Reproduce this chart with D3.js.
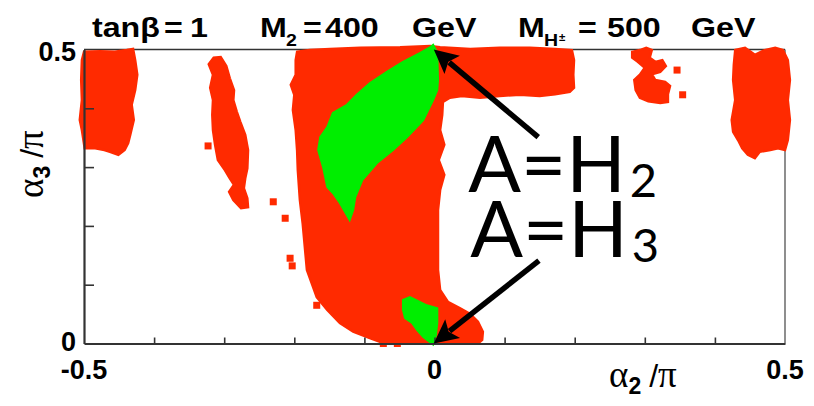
<!DOCTYPE html>
<html>
<head>
<meta charset="utf-8">
<script src="https://cdn.jsdelivr.net/npm/d3@7"></script>
<style>
  body { margin: 0; background: #fff; }
  svg { display: block; }
</style>
</head>
<body>
<svg id="chart" width="814" height="406"></svg>
<script>
// Axis ticks and labels (alpha_2/pi horizontally, alpha_3/pi vertically)
const xTicks = [-0.4, -0.3, -0.2, -0.1, 0, 0.1, 0.2, 0.3, 0.4];
const yTicks = [0.1, 0.2, 0.3, 0.4];
const xTickLabels = [{ v: -0.5, t: "-0.5" }, { v: 0, t: "0" }, { v: 0.5, t: "0.5" }];
const yTickLabels = [{ v: 0, t: "0" }, { v: 0.5, t: "0.5" }];

// Allowed regions (outlines of the scanned points), [alpha2/pi, alpha3/pi]
const redLeftBlock = [[-0.5,0.496],[-0.477,0.497],[-0.456,0.496],[-0.439,0.499],[-0.430,0.501],[-0.427,0.482],[-0.424,0.457],[-0.427,0.431],[-0.432,0.406],[-0.429,0.380],[-0.434,0.355],[-0.437,0.341],[-0.442,0.329],[-0.451,0.321],[-0.463,0.326],[-0.471,0.329],[-0.484,0.332],[-0.499,0.332],[-0.503,0.363],[-0.506,0.380],[-0.503,0.414],[-0.504,0.448],[-0.503,0.482]];
const redStrip = [[-0.322,0.475],[-0.316,0.457],[-0.320,0.435],[-0.316,0.414],[-0.317,0.389],[-0.316,0.363],[-0.313,0.338],[-0.309,0.312],[-0.299,0.295],[-0.292,0.281],[-0.286,0.270],[-0.293,0.258],[-0.287,0.244],[-0.276,0.230],[-0.266,0.232],[-0.267,0.247],[-0.272,0.264],[-0.270,0.281],[-0.267,0.298],[-0.266,0.329],[-0.270,0.355],[-0.277,0.377],[-0.282,0.394],[-0.287,0.414],[-0.286,0.431],[-0.292,0.451],[-0.297,0.472],[-0.305,0.487],[-0.315,0.486]];
const redMain = [[-0.196,0.496],[-0.178,0.499],[-0.149,0.501],[-0.106,0.503],[-0.049,0.504],[-0.006,0.506],[0.008,0.504],[0.051,0.501],[0.093,0.503],[0.136,0.503],[0.172,0.501],[0.196,0.499],[0.199,0.482],[0.198,0.457],[0.199,0.435],[0.193,0.428],[0.172,0.424],[0.150,0.421],[0.122,0.423],[0.093,0.421],[0.065,0.418],[0.039,0.421],[0.022,0.418],[0.012,0.411],[0.011,0.389],[0.008,0.363],[0.014,0.338],[0.006,0.312],[0.014,0.287],[0.008,0.261],[0.005,0.227],[0.005,0.176],[0.005,0.125],[0.008,0.091],[0.019,0.071],[0.036,0.060],[0.051,0.050],[0.062,0.037],[0.069,0.020],[0.068,0.006],[0.062,0.0],[0.008,0.0],[-0.049,0.0],[-0.078,0.003],[-0.096,0.011],[-0.116,0.020],[-0.135,0.035],[-0.153,0.057],[-0.168,0.079],[-0.182,0.125],[-0.188,0.204],[-0.192,0.244],[-0.195,0.295],[-0.196,0.329],[-0.198,0.363],[-0.202,0.397],[-0.200,0.423],[-0.205,0.440],[-0.198,0.457],[-0.198,0.482]];
const redRightCluster = [[0.282,0.496],[0.293,0.499],[0.302,0.503],[0.310,0.499],[0.307,0.486],[0.315,0.479],[0.325,0.482],[0.330,0.472],[0.322,0.462],[0.310,0.458],[0.315,0.448],[0.329,0.445],[0.336,0.438],[0.333,0.424],[0.333,0.411],[0.322,0.409],[0.305,0.412],[0.293,0.418],[0.287,0.431],[0.285,0.448],[0.293,0.457],[0.300,0.469],[0.290,0.479],[0.282,0.486]];
const redRightBlock = [[0.429,0.499],[0.443,0.503],[0.457,0.491],[0.471,0.499],[0.486,0.503],[0.497,0.499],[0.504,0.482],[0.507,0.448],[0.504,0.414],[0.507,0.380],[0.504,0.346],[0.500,0.329],[0.490,0.332],[0.479,0.329],[0.464,0.326],[0.457,0.315],[0.447,0.321],[0.439,0.332],[0.433,0.346],[0.426,0.360],[0.424,0.380],[0.429,0.414],[0.426,0.448],[0.427,0.474]];
const redIsolated = [[-0.323,0.336],[-0.230,0.241],[-0.213,0.213],[-0.206,0.145],[-0.203,0.132],[-0.168,0.065],[-0.073,0.0],[-0.053,0.0],[0.354,0.423],[0.346,0.465]];

const greenUpper = [[-0.002,0.508],[0.004,0.494],[0.005,0.448],[0.004,0.431],[-0.002,0.414],[-0.016,0.380],[-0.039,0.351],[-0.059,0.329],[-0.082,0.307],[-0.103,0.278],[-0.113,0.249],[-0.116,0.227],[-0.121,0.210],[-0.135,0.239],[-0.145,0.256],[-0.153,0.266],[-0.159,0.300],[-0.166,0.329],[-0.163,0.351],[-0.153,0.368],[-0.145,0.392],[-0.125,0.406],[-0.111,0.423],[-0.092,0.443],[-0.068,0.462],[-0.045,0.479],[-0.021,0.494],[-0.006,0.504]];
const greenLower = [[-0.045,0.074],[-0.035,0.079],[-0.011,0.065],[0.004,0.060],[0.004,0.035],[0.002,0.014],[-0.002,-0.002],[-0.016,0.011],[-0.025,0.023],[-0.032,0.035],[-0.042,0.043],[-0.045,0.057]];

const redRegions = [redLeftBlock, redStrip, redMain, redRightCluster, redRightBlock];
const greenRegions = [greenUpper, greenLower];

// Annotations: label, text anchor point, arrow tail and arrow tip (data units)
const annotations = [
  { label: "A=H", sub: "2", at: [0.048, 0.258], tail: [0.148, 0.351], tip: [-0.001, 0.5] },
  { label: "A=H", sub: "3", at: [0.051, 0.147], tail: [0.149, 0.141], tip: [-0.001, 0.0] }
];

const RED = "#ff2a00", GREEN = "#00ee00";

const svg = d3.select("#chart");
const x = d3.scaleLinear().domain([-0.5, 0.5]).range([84, 785]);
const y = d3.scaleLinear().domain([0, 0.5]).range([343.5, 49.5]);

// Frame: thin top/right edges
svg.append("line").attr("x1", x(-0.5)).attr("x2", x(0.5)).attr("y1", y(0.5)).attr("y2", y(0.5))
  .attr("stroke", "#333").attr("stroke-width", 1.3);
svg.append("line").attr("x1", x(0.5)).attr("x2", x(0.5)).attr("y1", y(0.5)).attr("y2", y(0))
  .attr("stroke", "#444").attr("stroke-width", 1.2);

// Regions
const area = d3.line().x(d => x(d[0])).y(d => y(d[1])).curve(d3.curveLinearClosed);
const regions = svg.append("g");
regions.selectAll("path.red").data(redRegions).join("path").attr("class", "red")
  .attr("d", area).attr("fill", RED).attr("stroke", RED)
  .attr("stroke-width", 2.5).attr("stroke-linejoin", "miter");
regions.selectAll("rect.pt").data(redIsolated).join("rect").attr("class", "pt")
  .attr("x", d => x(d[0]) - 3.5).attr("y", d => y(d[1]) - 3.5)
  .attr("width", 7).attr("height", 7).attr("fill", RED);
regions.selectAll("path.green").data(greenRegions).join("path").attr("class", "green")
  .attr("d", area).attr("fill", GREEN).attr("stroke", GREEN)
  .attr("stroke-width", 2).attr("stroke-linejoin", "miter");

// Axes with inward ticks
const xAxis = svg.append("g").attr("transform", `translate(0,${y(0)})`)
  .call(d3.axisBottom(x).tickValues(xTicks).tickSizeInner(-6).tickSizeOuter(0).tickFormat(""));
const yAxis = svg.append("g").attr("transform", `translate(${x(-0.5)},0)`)
  .call(d3.axisLeft(y).tickValues(yTicks).tickSizeInner(-10).tickSizeOuter(0).tickFormat(""));
[xAxis, yAxis].forEach(g => {
  g.select(".domain").attr("stroke", "#333").attr("stroke-width", 2.2);
  g.selectAll(".tick line").attr("stroke", "#333").attr("stroke-width", 1.6);
});

// Tick labels
const tickFont = "'Liberation Sans', Arial, sans-serif";
svg.selectAll("text.xl").data(xTickLabels).join("text").attr("class", "xl")
  .attr("x", d => x(d.v)).attr("y", 379).attr("text-anchor", "middle")
  .attr("font-family", tickFont).attr("font-weight", "bold").attr("font-size", 27)
  .text(d => d.t);
svg.selectAll("text.yl").data(yTickLabels).join("text").attr("class", "yl")
  .attr("x", 76).attr("y", d => y(d.v) + (d.v === 0 ? 7 : 11)).attr("text-anchor", "end")
  .attr("font-family", tickFont).attr("font-weight", "bold").attr("font-size", 27)
  .text(d => d.t);

// Axis titles
const serif = "'Liberation Serif', 'Times New Roman', serif";
const xt = svg.append("text").attr("x", 609).attr("y", 387)
  .attr("font-family", serif).attr("font-size", 37);
xt.append("tspan").text("α");
xt.append("tspan").attr("dy", 7).attr("font-family", tickFont).attr("font-weight", "bold").attr("font-size", 23).text("2");
xt.append("tspan").attr("dy", -7).attr("dx", 8).attr("font-family", tickFont).attr("font-size", 32).text("/");
xt.append("tspan").text("π");

const yt = svg.append("text").attr("transform", "translate(43,198) rotate(-90)")
  .attr("font-family", serif).attr("font-size", 37);
yt.append("tspan").text("α");
yt.append("tspan").attr("dy", 7).attr("font-family", tickFont).attr("font-weight", "bold").attr("font-size", 23).text("3");
yt.append("tspan").attr("dy", -7).attr("dx", 8).attr("font-family", tickFont).attr("font-size", 32).text("/");
yt.append("tspan").text("π");

// Header line with the benchmark parameters
const header = [
  { t: "tanβ", x: 92 }, { t: "=", x: 164 }, { t: "1", x: 190 },
  { t: "M", x: 260 }, { t: "2", x: 286, sub: true }, { t: "=", x: 303 }, { t: "400", x: 325 },
  { t: "GeV", x: 412 },
  { t: "M", x: 518 }, { t: "H", x: 544, sub: true }, { t: "±", x: 559, sup: true },
  { t: "=", x: 578 }, { t: "500", x: 607 }, { t: "GeV", x: 691 }
];
svg.selectAll("text.hd").data(header).join("text").attr("class", "hd")
  .attr("transform", d => `translate(${d.x},${d.sub ? 46 : d.sup ? 41 : 37}) scale(1.15,1)`)
  .attr("font-family", tickFont).attr("font-weight", "bold")
  .attr("font-size", d => d.sub ? 17 : d.sup ? 10 : 28)
  .text(d => d.t);

// Annotation labels and arrows
const ann = svg.append("g");
annotations.forEach(a => {
  const t = ann.append("text").attr("x", x(a.at[0])).attr("y", y(a.at[1]))
    .attr("font-family", "Lato, 'Open Sans', sans-serif").attr("font-size", 78).attr("fill", "#000");
  t.append("tspan").text(a.label);
  t.append("tspan").attr("dy", 5).attr("dx", 4).attr("font-size", 47).text(a.sub);

  const x0 = x(a.tail[0]), y0 = y(a.tail[1]), x1 = x(a.tip[0]), y1 = y(a.tip[1]);
  const dx = x1 - x0, dy = y1 - y0, len = Math.hypot(dx, dy);
  const ux = dx / len, uy = dy / len, px = -uy, py = ux;
  const headLen = 24, headHalf = 12;
  const bx = x1 - ux * headLen, by = y1 - uy * headLen;
  ann.append("line").attr("x1", x0).attr("y1", y0).attr("x2", bx + ux * 4).attr("y2", by + uy * 4)
    .attr("stroke", "#000").attr("stroke-width", 5.5);
  ann.append("path")
    .attr("d", `M${x1},${y1}L${bx + px * headHalf},${by + py * headHalf}L${bx + ux * 5},${by + uy * 5}L${bx - px * headHalf},${by - py * headHalf}Z`)
    .attr("fill", "#000");
});
</script>
</body>
</html>
